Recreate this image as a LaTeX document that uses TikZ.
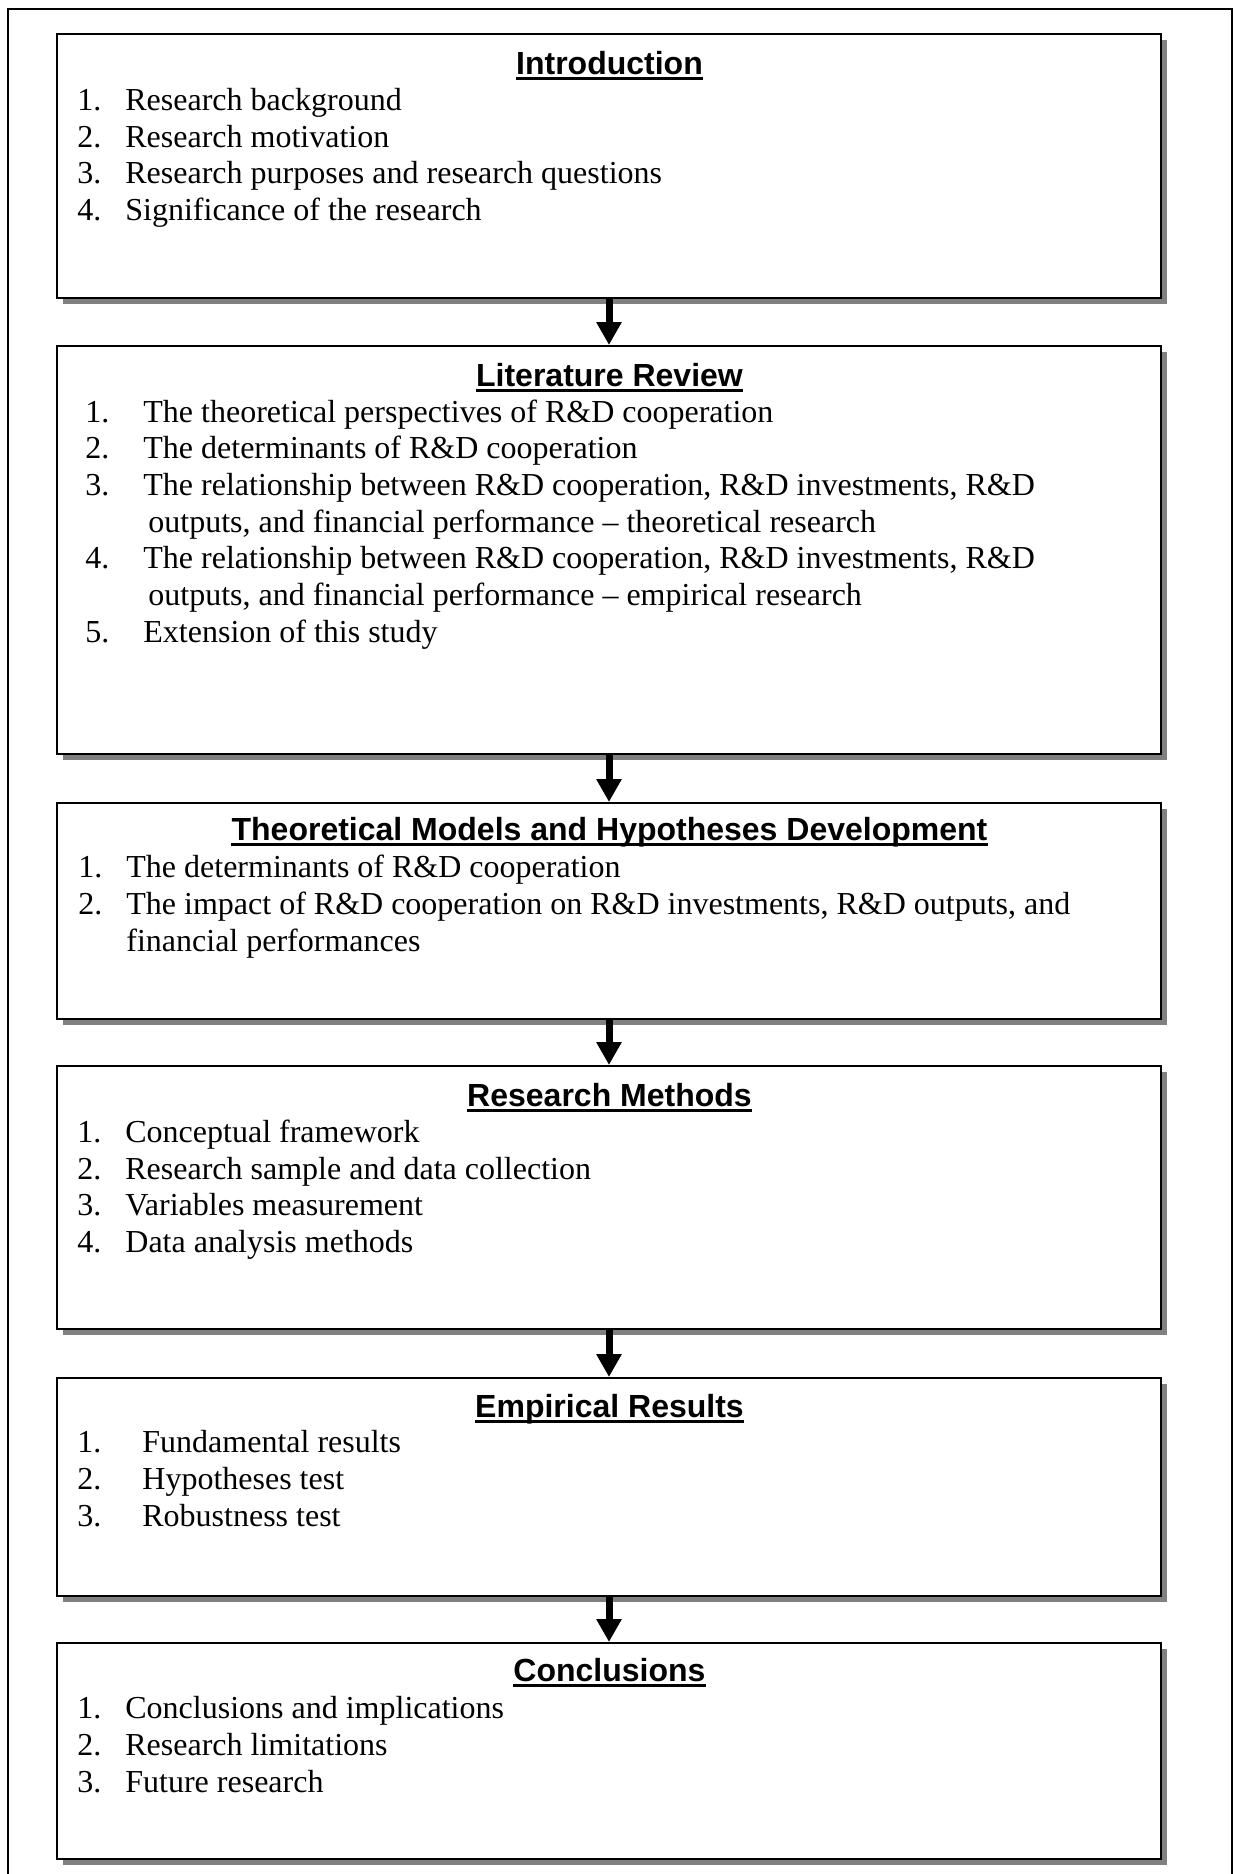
\documentclass[tikz,border=0pt]{standalone}
\usepackage{fontspec}
\setmainfont{Liberation Serif}
\setsansfont{Liberation Sans}
\usetikzlibrary{arrows.meta,shadows}

% one unit = one pixel of the layout grid, y grows downwards
\tikzset{
  x=0.5pt, y=-0.5pt,
  stage/.style={draw=black, line width=1pt, fill=white, rectangle, inner sep=0pt,
    minimum width=552pt, anchor=north,
    general shadow={fill=gray, shadow xshift=3pt, shadow yshift=-3pt}},
  heading/.style={inner sep=0pt, anchor=base, font=\sffamily\bfseries\fontsize{16}{19}\selectfont},
  num/.style={inner sep=0pt, anchor=base west, font=\fontsize{16}{18.5}\selectfont},
  txt/.style={num},
  uline/.style={line width=1.8pt},
  flow/.style={line width=3.5pt, -{Triangle[width=12pt,length=11.5pt]}},
  frame/.style={line width=0.9pt}
}
\newcommand\headline[1]{\draw[uline] ([yshift=-2.3pt]#1.base west) -- ([yshift=-2.3pt]#1.base east);}

\begin{document}
\begin{tikzpicture}
\useasboundingbox (0,0) rectangle (1233,1874);
\draw[frame] (8,1890) -- (8,9) -- (1232,9) -- (1232,1890);

% stage boxes
\node[stage, minimum height=132pt]   (b1) at (609,33)   {};
\node[stage, minimum height=204pt]   (b2) at (609,345)  {};
\node[stage, minimum height=108pt]   (b3) at (609,802)  {};
\node[stage, minimum height=131.5pt] (b4) at (609,1065) {};
\node[stage, minimum height=109pt]   (b5) at (609,1377) {};
\node[stage, minimum height=108pt]   (b6) at (609,1642) {};

% arrows between stages
\draw[flow] (b1.south) -- (b2.north);
\draw[flow] (b2.south) -- (b3.north);
\draw[flow] (b3.south) -- (b4.north);
\draw[flow] (b4.south) -- (b5.north);
\draw[flow] (b5.south) -- (b6.north);

% Introduction
\node[heading] (h1) at (609.5,74) {Introduction};
\headline{h1}
\node[num] (n11) at (77,110) {1.};
\node[txt] (t11) at (125,110) {Research background};
\node[num] (n12) at (77,147) {2.};
\node[txt] (t12) at (125,147) {Research motivation};
\node[num] (n13) at (77,183) {3.};
\node[txt] (t13) at (125,183) {Research purposes and research questions};
\node[num] (n14) at (77,220) {4.};
\node[txt] (t14) at (125,220) {Significance of the research};

% Literature Review
\node[heading] (h2) at (609.5,386) {Literature Review};
\headline{h2}
\node[num] (n21) at (85,422) {1.};
\node[txt] (t21) at (143,422) {The theoretical perspectives of R\&D cooperation};
\node[num] (n22) at (85,458) {2.};
\node[txt] (t22) at (143,458) {The determinants of R\&D cooperation};
\node[num] (n23) at (85,495) {3.};
\node[txt] (t23) at (143,495) {The relationship between R\&D cooperation, R\&D investments, R\&D};
\node[txt] (t23b) at (148,532) {outputs, and financial performance -- theoretical research};
\node[num] (n24) at (85,568) {4.};
\node[txt] (t24) at (143,568) {The relationship between R\&D cooperation, R\&D investments, R\&D};
\node[txt] (t24b) at (148,605) {outputs, and financial performance -- empirical research};
\node[num] (n25) at (85,642) {5.};
\node[txt] (t25) at (143,642) {Extension of this study};

% Theoretical Models and Hypotheses Development
\node[heading] (h3) at (609.5,840) {Theoretical Models and Hypotheses Development};
\headline{h3}
\node[num] (n31) at (78,877) {1.};
\node[txt] (t31) at (126,877) {The determinants of R\&D cooperation};
\node[num] (n32) at (78,914) {2.};
\node[txt] (t32) at (126,914) {The impact of R\&D cooperation on R\&D investments, R\&D outputs, and};
\node[txt] (t32b) at (126,951) {financial performances};

% Research Methods
\node[heading] (h4) at (609.5,1106) {Research Methods};
\headline{h4}
\node[num] (n41) at (77,1142) {1.};
\node[txt] (t41) at (125,1142) {Conceptual framework};
\node[num] (n42) at (77,1179) {2.};
\node[txt] (t42) at (125,1179) {Research sample and data collection};
\node[num] (n43) at (77,1215) {3.};
\node[txt] (t43) at (125,1215) {Variables measurement};
\node[num] (n44) at (77,1252) {4.};
\node[txt] (t44) at (125,1252) {Data analysis methods};

% Empirical Results
\node[heading] (h5) at (609.5,1417) {Empirical Results};
\headline{h5}
\node[num] (n51) at (77,1452) {1.};
\node[txt] (t51) at (142,1452) {Fundamental results};
\node[num] (n52) at (77,1489) {2.};
\node[txt] (t52) at (142,1489) {Hypotheses test};
\node[num] (n53) at (77,1526) {3.};
\node[txt] (t53) at (142,1526) {Robustness test};

% Conclusions
\node[heading] (h6) at (609.5,1681) {Conclusions};
\headline{h6}
\node[num] (n61) at (77,1718) {1.};
\node[txt] (t61) at (125,1718) {Conclusions and implications};
\node[num] (n62) at (77,1755) {2.};
\node[txt] (t62) at (125,1755) {Research limitations};
\node[num] (n63) at (77,1792) {3.};
\node[txt] (t63) at (125,1792) {Future research};
\end{tikzpicture}
\end{document}
